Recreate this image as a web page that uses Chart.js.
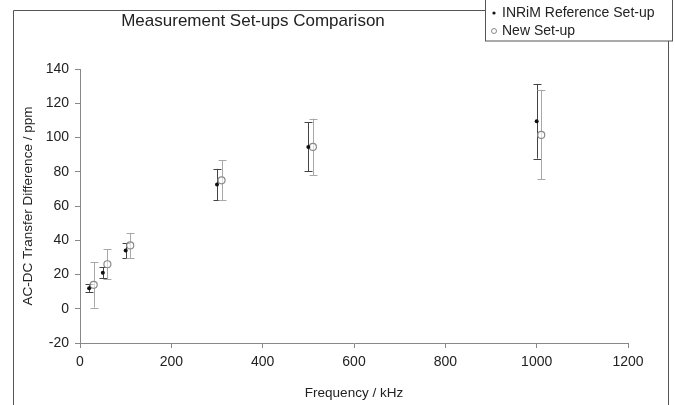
<!DOCTYPE html>
<html>
<head>
<meta charset="utf-8">
<script src="https://cdn.jsdelivr.net/npm/chart.js@4.4.1/dist/chart.umd.min.js"></script>
<style>
  html, body { margin: 0; padding: 0; background: #fff; }
  #wrap { width: 675px; height: 405px; position: relative; }
</style>
</head>
<body>
<div id="wrap"><canvas id="setupChart" width="675" height="405"></canvas></div>
<script>
// ===== DATA =====
const seriesNames = ['INRiM Reference Set-up', 'New Set-up'];
const refFreq = [20, 50, 100, 300, 500, 1000];
const refDiff = [12, 21, 34, 72.5, 94.5, 109.5];
const refUnc = [2.2, 3.2, 4.4, 9.2, 14.3, 21.8];
const newFreq = [30, 60, 110, 310, 510, 1010];
const newDiff = [14, 26, 37, 75, 94.5, 101.5];
const newUnc = [13.3, 8.6, 7.3, 11.7, 16.5, 26];
const xTicks = [0, 200, 400, 600, 800, 1000, 1200];
const yTicks = [-20, 0, 20, 40, 60, 80, 100, 120, 140];

const FONT = '"Liberation Sans", Arial, sans-serif';

function toPoints(xs, ys, es) {
    return xs.map((x, i) => ({ x: x, y: ys[i], err: es[i] }));
}

// ===== ERROR BARS =====
const errorBars = {
    id: 'errorBars',
    beforeDatasetsDraw(chart) {
        const ctx = chart.ctx;
        const yScale = chart.scales.y;
        chart.data.datasets.forEach((ds, di) => {
            const meta = chart.getDatasetMeta(di);
            ctx.save();
            ctx.strokeStyle = ds.errorColor;
            ctx.lineWidth = 1;
            meta.data.forEach((pt, i) => {
                const d = ds.data[i];
                const x = Math.round(pt.x) + 0.5;
                const yTop = yScale.getPixelForValue(d.y + d.err);
                const yBot = yScale.getPixelForValue(d.y - d.err);
                ctx.beginPath();
                ctx.moveTo(x, yTop);
                ctx.lineTo(x, yBot);
                ctx.moveTo(x - 4, Math.round(yTop) + 0.5);
                ctx.lineTo(x + 4, Math.round(yTop) + 0.5);
                ctx.moveTo(x - 4, Math.round(yBot) + 0.5);
                ctx.lineTo(x + 4, Math.round(yBot) + 0.5);
                ctx.stroke();
            });
            ctx.restore();
        });
    }
};

// ===== FRAME, TITLE, LEGEND BOX =====
const decorations = {
    id: 'decorations',
    beforeDraw(chart) {
        const ctx = chart.ctx;
        ctx.save();
        ctx.fillStyle = '#fff';
        ctx.fillRect(0, 0, chart.width, chart.height);
        ctx.strokeStyle = '#555';
        ctx.lineWidth = 1;
        ctx.beginPath();
        ctx.moveTo(13.5, 405);
        ctx.lineTo(13.5, 10.5);
        ctx.lineTo(668.5, 10.5);
        ctx.lineTo(668.5, 405);
        ctx.stroke();

        ctx.fillStyle = '#222';
        ctx.font = '17px ' + FONT;
        ctx.textAlign = 'center';
        ctx.textBaseline = 'middle';
        ctx.fillText('Measurement Set-ups Comparison', 253, 21);
        ctx.restore();
    },
    afterDraw(chart) {
        const ctx = chart.ctx;
        ctx.save();
        ctx.fillStyle = '#fff';
        ctx.fillRect(485, 0, 188, 41);
        ctx.strokeStyle = '#555';
        ctx.lineWidth = 1;
        ctx.strokeRect(485.5, -1, 187, 42);

        ctx.font = '14px ' + FONT;
        ctx.textAlign = 'left';
        ctx.textBaseline = 'middle';
        // marker: small dot
        ctx.beginPath();
        ctx.arc(494, 13, 1.6, 0, Math.PI * 2);
        ctx.fillStyle = '#111';
        ctx.fill();
        ctx.fillStyle = '#222';
        ctx.fillText(seriesNames[0], 502, 13);
        // marker: open circle
        ctx.beginPath();
        ctx.arc(494, 31, 2.5, 0, Math.PI * 2);
        ctx.strokeStyle = '#888';
        ctx.stroke();
        ctx.fillText(seriesNames[1], 502, 31);
        ctx.restore();
    }
};

// ===== CHART =====
const setupChart = new Chart(document.getElementById('setupChart'), {
    type: 'scatter',
    data: {
        datasets: [
            {
                label: seriesNames[0],
                data: toPoints(refFreq, refDiff, refUnc),
                pointRadius: 2,
                pointBackgroundColor: '#111',
                pointBorderColor: '#111',
                pointBorderWidth: 0,
                errorColor: '#444'
            },
            {
                label: seriesNames[1],
                data: toPoints(newFreq, newDiff, newUnc),
                pointRadius: 3.5,
                pointBackgroundColor: 'rgba(255,255,255,0.6)',
                pointBorderColor: '#8a8a8a',
                pointBorderWidth: 1.2,
                errorColor: '#a8a8a8'
            }
        ]
    },
    options: {
        responsive: false,
        animation: false,
        layout: { padding: { left: 0, right: 47, top: 69, bottom: 0 } },
        plugins: {
            legend: { display: false },
            title: { display: false },
            tooltip: { enabled: false }
        },
        scales: {
            x: {
                type: 'linear',
                min: 0,
                max: 1200,
                afterBuildTicks: (axis) => { axis.ticks = xTicks.map(v => ({ value: v })); },
                afterFit: (axis) => { axis.height = 62; },
                border: { color: '#888', width: 1 },
                grid: { drawOnChartArea: false, tickLength: 5, color: '#888' },
                ticks: {
                    color: '#222',
                    font: { family: FONT, size: 14 },
                    padding: 6,
                    maxRotation: 0,
                    callback: (v) => String(v)
                },
                title: {
                    display: true,
                    text: 'Frequency / kHz',
                    color: '#222',
                    font: { family: FONT, size: 13.5 },
                    padding: { top: 0, bottom: 4 }
                }
            },
            y: {
                type: 'linear',
                min: -20,
                max: 140,
                afterBuildTicks: (axis) => { axis.ticks = yTicks.map(v => ({ value: v })); },
                afterFit: (axis) => { axis.width = 80; },
                border: { color: '#888', width: 1 },
                grid: { drawOnChartArea: false, tickLength: 5, color: '#888' },
                ticks: {
                    color: '#222',
                    font: { family: FONT, size: 14 },
                    padding: 6,
                    callback: (v) => String(v)
                },
                title: {
                    display: true,
                    text: 'AC-DC Transfer Difference / ppm',
                    color: '#222',
                    font: { family: FONT, size: 13.5 },
                    padding: { top: 20, bottom: 0 }
                }
            }
        }
    },
    plugins: [decorations, errorBars]
});
</script>
</body>
</html>
